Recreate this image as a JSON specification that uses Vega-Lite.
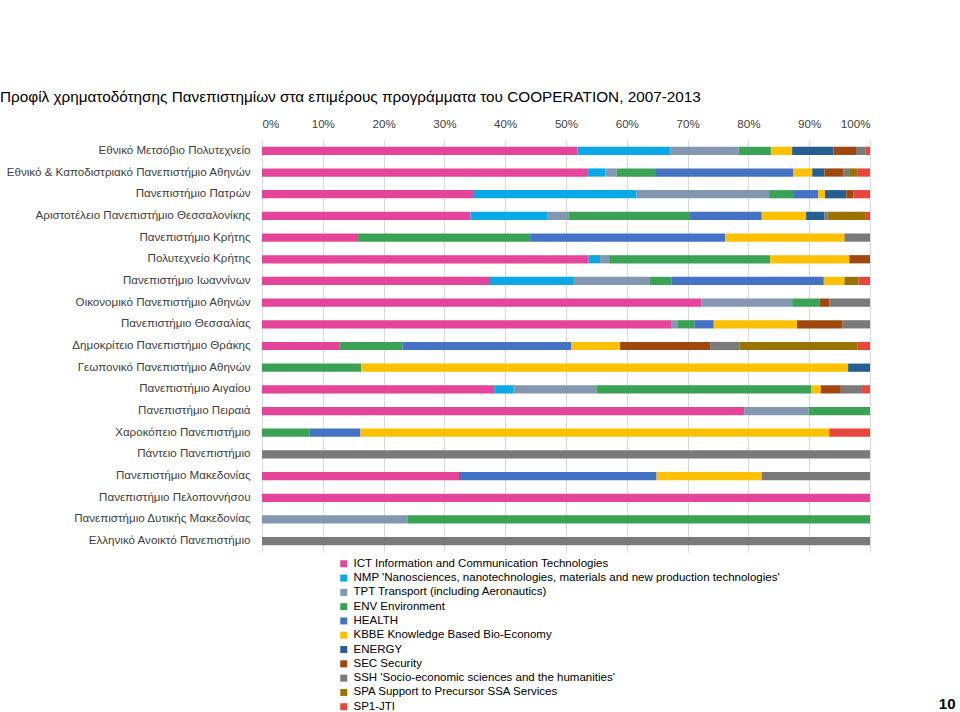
{
  "$schema": "https://vega.github.io/schema/vega-lite/v6.json",
  "width": 608,
  "height": 412,
  "autosize": {"type": "none"},
  "padding": {"left": 262, "top": 140, "right": 90, "bottom": 160},
  "background": "white",
  "config": {"view": {"stroke": null}, "font": "Liberation Sans"},
  "title": {
    "text": "Προφίλ χρηματοδότησης Πανεπιστημίων στα επιμέρους προγράμματα του COOPERATION, 2007-2013",
    "anchor": "start",
    "frame": "group",
    "dx": -262,
    "offset": 13,
    "fontSize": 15.3,
    "fontWeight": "normal",
    "font": "Liberation Sans",
    "color": "#000000"
  },
  "datasets": {
    "programmes": [
      {"p": "ICT", "k": 1, "name": "ICT Information and Communication Technologies"},
      {"p": "NMP", "k": 2, "name": "NMP  'Nanosciences, nanotechnologies, materials and new production technologies'"},
      {"p": "TPT", "k": 3, "name": "TPT Transport (including Aeronautics)"},
      {"p": "ENV", "k": 4, "name": "ENV Environment"},
      {"p": "HEALTH", "k": 5, "name": "HEALTH"},
      {"p": "KBBE", "k": 6, "name": "KBBE  Knowledge Based Bio-Economy"},
      {"p": "ENERGY", "k": 7, "name": "ENERGY"},
      {"p": "SEC", "k": 8, "name": "SEC Security"},
      {"p": "SSH", "k": 9, "name": "SSH  'Socio-economic sciences and the humanities'"},
      {"p": "SPA", "k": 10, "name": "SPA Support to Precursor SSA Services"},
      {"p": "SP1", "k": 11, "name": "SP1-JTI"}
    ],
    "funding": [
      {"u": "Εθνικό Μετσόβιο Πολυτεχνείο", "p": "ICT", "v": 51.9},
      {"u": "Εθνικό Μετσόβιο Πολυτεχνείο", "p": "NMP", "v": 15.3},
      {"u": "Εθνικό Μετσόβιο Πολυτεχνείο", "p": "TPT", "v": 11.2},
      {"u": "Εθνικό Μετσόβιο Πολυτεχνείο", "p": "ENV", "v": 5.3},
      {"u": "Εθνικό Μετσόβιο Πολυτεχνείο", "p": "KBBE", "v": 3.5},
      {"u": "Εθνικό Μετσόβιο Πολυτεχνείο", "p": "ENERGY", "v": 6.8},
      {"u": "Εθνικό Μετσόβιο Πολυτεχνείο", "p": "SEC", "v": 3.7},
      {"u": "Εθνικό Μετσόβιο Πολυτεχνείο", "p": "SSH", "v": 1.6},
      {"u": "Εθνικό Μετσόβιο Πολυτεχνείο", "p": "SP1", "v": 0.7},

      {"u": "Εθνικό & Καποδιστριακό Πανεπιστήμιο Αθηνών", "p": "ICT", "v": 53.6},
      {"u": "Εθνικό & Καποδιστριακό Πανεπιστήμιο Αθηνών", "p": "NMP", "v": 2.9},
      {"u": "Εθνικό & Καποδιστριακό Πανεπιστήμιο Αθηνών", "p": "TPT", "v": 1.8},
      {"u": "Εθνικό & Καποδιστριακό Πανεπιστήμιο Αθηνών", "p": "ENV", "v": 6.5},
      {"u": "Εθνικό & Καποδιστριακό Πανεπιστήμιο Αθηνών", "p": "HEALTH", "v": 22.6},
      {"u": "Εθνικό & Καποδιστριακό Πανεπιστήμιο Αθηνών", "p": "KBBE", "v": 3.1},
      {"u": "Εθνικό & Καποδιστριακό Πανεπιστήμιο Αθηνών", "p": "ENERGY", "v": 2.0},
      {"u": "Εθνικό & Καποδιστριακό Πανεπιστήμιο Αθηνών", "p": "SEC", "v": 3.1},
      {"u": "Εθνικό & Καποδιστριακό Πανεπιστήμιο Αθηνών", "p": "SSH", "v": 1.1},
      {"u": "Εθνικό & Καποδιστριακό Πανεπιστήμιο Αθηνών", "p": "SPA", "v": 1.2},
      {"u": "Εθνικό & Καποδιστριακό Πανεπιστήμιο Αθηνών", "p": "SP1", "v": 2.1},

      {"u": "Πανεπιστήμιο Πατρών", "p": "ICT", "v": 34.7},
      {"u": "Πανεπιστήμιο Πατρών", "p": "NMP", "v": 26.9},
      {"u": "Πανεπιστήμιο Πατρών", "p": "TPT", "v": 21.8},
      {"u": "Πανεπιστήμιο Πατρών", "p": "ENV", "v": 4.1},
      {"u": "Πανεπιστήμιο Πατρών", "p": "HEALTH", "v": 4.0},
      {"u": "Πανεπιστήμιο Πατρών", "p": "KBBE", "v": 1.1},
      {"u": "Πανεπιστήμιο Πατρών", "p": "ENERGY", "v": 3.5},
      {"u": "Πανεπιστήμιο Πατρών", "p": "SEC", "v": 1.2},
      {"u": "Πανεπιστήμιο Πατρών", "p": "SP1", "v": 2.7},

      {"u": "Αριστοτέλειο Πανεπιστήμιο Θεσσαλονίκης", "p": "ICT", "v": 34.3},
      {"u": "Αριστοτέλειο Πανεπιστήμιο Θεσσαλονίκης", "p": "NMP", "v": 12.7},
      {"u": "Αριστοτέλειο Πανεπιστήμιο Θεσσαλονίκης", "p": "TPT", "v": 3.4},
      {"u": "Αριστοτέλειο Πανεπιστήμιο Θεσσαλονίκης", "p": "ENV", "v": 20.0},
      {"u": "Αριστοτέλειο Πανεπιστήμιο Θεσσαλονίκης", "p": "HEALTH", "v": 11.8},
      {"u": "Αριστοτέλειο Πανεπιστήμιο Θεσσαλονίκης", "p": "KBBE", "v": 7.3},
      {"u": "Αριστοτέλειο Πανεπιστήμιο Θεσσαλονίκης", "p": "ENERGY", "v": 3.0},
      {"u": "Αριστοτέλειο Πανεπιστήμιο Θεσσαλονίκης", "p": "SSH", "v": 0.5},
      {"u": "Αριστοτέλειο Πανεπιστήμιο Θεσσαλονίκης", "p": "SPA", "v": 6.2},
      {"u": "Αριστοτέλειο Πανεπιστήμιο Θεσσαλονίκης", "p": "SP1", "v": 0.8},

      {"u": "Πανεπιστήμιο Κρήτης", "p": "ICT", "v": 15.8},
      {"u": "Πανεπιστήμιο Κρήτης", "p": "ENV", "v": 28.3},
      {"u": "Πανεπιστήμιο Κρήτης", "p": "HEALTH", "v": 32.1},
      {"u": "Πανεπιστήμιο Κρήτης", "p": "KBBE", "v": 19.6},
      {"u": "Πανεπιστήμιο Κρήτης", "p": "SSH", "v": 4.2},

      {"u": "Πολυτεχνείο Κρήτης", "p": "ICT", "v": 53.7},
      {"u": "Πολυτεχνείο Κρήτης", "p": "NMP", "v": 1.9},
      {"u": "Πολυτεχνείο Κρήτης", "p": "TPT", "v": 1.5},
      {"u": "Πολυτεχνείο Κρήτης", "p": "ENV", "v": 26.5},
      {"u": "Πολυτεχνείο Κρήτης", "p": "KBBE", "v": 13.0},
      {"u": "Πολυτεχνείο Κρήτης", "p": "SEC", "v": 3.4},

      {"u": "Πανεπιστήμιο Ιωαννίνων", "p": "ICT", "v": 37.5},
      {"u": "Πανεπιστήμιο Ιωαννίνων", "p": "NMP", "v": 13.8},
      {"u": "Πανεπιστήμιο Ιωαννίνων", "p": "TPT", "v": 12.4},
      {"u": "Πανεπιστήμιο Ιωαννίνων", "p": "ENV", "v": 3.7},
      {"u": "Πανεπιστήμιο Ιωαννίνων", "p": "HEALTH", "v": 25.0},
      {"u": "Πανεπιστήμιο Ιωαννίνων", "p": "KBBE", "v": 3.4},
      {"u": "Πανεπιστήμιο Ιωαννίνων", "p": "SPA", "v": 2.3},
      {"u": "Πανεπιστήμιο Ιωαννίνων", "p": "SP1", "v": 1.9},

      {"u": "Οικονομικό Πανεπιστήμιο Αθηνών", "p": "ICT", "v": 72.3},
      {"u": "Οικονομικό Πανεπιστήμιο Αθηνών", "p": "TPT", "v": 14.9},
      {"u": "Οικονομικό Πανεπιστήμιο Αθηνών", "p": "ENV", "v": 4.5},
      {"u": "Οικονομικό Πανεπιστήμιο Αθηνών", "p": "SEC", "v": 1.6},
      {"u": "Οικονομικό Πανεπιστήμιο Αθηνών", "p": "SSH", "v": 6.7},

      {"u": "Πανεπιστήμιο Θεσσαλίας", "p": "ICT", "v": 67.4},
      {"u": "Πανεπιστήμιο Θεσσαλίας", "p": "TPT", "v": 0.9},
      {"u": "Πανεπιστήμιο Θεσσαλίας", "p": "ENV", "v": 2.8},
      {"u": "Πανεπιστήμιο Θεσσαλίας", "p": "HEALTH", "v": 3.2},
      {"u": "Πανεπιστήμιο Θεσσαλίας", "p": "KBBE", "v": 13.7},
      {"u": "Πανεπιστήμιο Θεσσαλίας", "p": "SEC", "v": 7.5},
      {"u": "Πανεπιστήμιο Θεσσαλίας", "p": "SSH", "v": 4.5},

      {"u": "Δημοκρίτειο Πανεπιστήμιο Θράκης", "p": "ICT", "v": 12.7},
      {"u": "Δημοκρίτειο Πανεπιστήμιο Θράκης", "p": "ENV", "v": 10.4},
      {"u": "Δημοκρίτειο Πανεπιστήμιο Θράκης", "p": "HEALTH", "v": 27.8},
      {"u": "Δημοκρίτειο Πανεπιστήμιο Θράκης", "p": "KBBE", "v": 8.0},
      {"u": "Δημοκρίτειο Πανεπιστήμιο Θράκης", "p": "SEC", "v": 14.8},
      {"u": "Δημοκρίτειο Πανεπιστήμιο Θράκης", "p": "SSH", "v": 4.8},
      {"u": "Δημοκρίτειο Πανεπιστήμιο Θράκης", "p": "SPA", "v": 19.4},
      {"u": "Δημοκρίτειο Πανεπιστήμιο Θράκης", "p": "SP1", "v": 2.1},

      {"u": "Γεωπονικό Πανεπιστήμιο Αθηνών", "p": "ENV", "v": 16.3},
      {"u": "Γεωπονικό Πανεπιστήμιο Αθηνών", "p": "KBBE", "v": 80.1},
      {"u": "Γεωπονικό Πανεπιστήμιο Αθηνών", "p": "ENERGY", "v": 3.6},

      {"u": "Πανεπιστήμιο Αιγαίου", "p": "ICT", "v": 38.2},
      {"u": "Πανεπιστήμιο Αιγαίου", "p": "NMP", "v": 3.2},
      {"u": "Πανεπιστήμιο Αιγαίου", "p": "TPT", "v": 13.6},
      {"u": "Πανεπιστήμιο Αιγαίου", "p": "ENV", "v": 35.3},
      {"u": "Πανεπιστήμιο Αιγαίου", "p": "KBBE", "v": 1.6},
      {"u": "Πανεπιστήμιο Αιγαίου", "p": "SEC", "v": 3.3},
      {"u": "Πανεπιστήμιο Αιγαίου", "p": "SSH", "v": 3.5},
      {"u": "Πανεπιστήμιο Αιγαίου", "p": "SP1", "v": 1.3},

      {"u": "Πανεπιστήμιο Πειραιά", "p": "ICT", "v": 79.3},
      {"u": "Πανεπιστήμιο Πειραιά", "p": "TPT", "v": 10.6},
      {"u": "Πανεπιστήμιο Πειραιά", "p": "ENV", "v": 10.1},

      {"u": "Χαροκόπειο Πανεπιστήμιο", "p": "ENV", "v": 7.8},
      {"u": "Χαροκόπειο Πανεπιστήμιο", "p": "HEALTH", "v": 8.4},
      {"u": "Χαροκόπειο Πανεπιστήμιο", "p": "KBBE", "v": 77.1},
      {"u": "Χαροκόπειο Πανεπιστήμιο", "p": "SP1", "v": 6.7},

      {"u": "Πάντειο Πανεπιστήμιο", "p": "SSH", "v": 100},

      {"u": "Πανεπιστήμιο Μακεδονίας", "p": "ICT", "v": 32.4},
      {"u": "Πανεπιστήμιο Μακεδονίας", "p": "HEALTH", "v": 32.5},
      {"u": "Πανεπιστήμιο Μακεδονίας", "p": "KBBE", "v": 17.3},
      {"u": "Πανεπιστήμιο Μακεδονίας", "p": "SSH", "v": 17.8},

      {"u": "Πανεπιστήμιο Πελοποννήσου", "p": "ICT", "v": 100},

      {"u": "Πανεπιστήμιο Δυτικής Μακεδονίας", "p": "TPT", "v": 24.0},
      {"u": "Πανεπιστήμιο Δυτικής Μακεδονίας", "p": "ENV", "v": 76.0},

      {"u": "Ελληνικό Ανοικτό Πανεπιστήμιο", "p": "SSH", "v": 100}
    ]
  },
  "layer": [
    {
      "data": {"name": "funding"},
      "transform": [
        {"lookup": "p", "from": {"data": {"name": "programmes"}, "key": "p", "fields": ["name", "k"]}}
      ],
      "mark": {"type": "bar"},
      "encoding": {
        "y": {
          "field": "u",
          "type": "nominal",
          "sort": [
            "Εθνικό Μετσόβιο Πολυτεχνείο",
            "Εθνικό & Καποδιστριακό Πανεπιστήμιο Αθηνών",
            "Πανεπιστήμιο Πατρών",
            "Αριστοτέλειο Πανεπιστήμιο Θεσσαλονίκης",
            "Πανεπιστήμιο Κρήτης",
            "Πολυτεχνείο Κρήτης",
            "Πανεπιστήμιο Ιωαννίνων",
            "Οικονομικό Πανεπιστήμιο Αθηνών",
            "Πανεπιστήμιο Θεσσαλίας",
            "Δημοκρίτειο Πανεπιστήμιο Θράκης",
            "Γεωπονικό Πανεπιστήμιο Αθηνών",
            "Πανεπιστήμιο Αιγαίου",
            "Πανεπιστήμιο Πειραιά",
            "Χαροκόπειο Πανεπιστήμιο",
            "Πάντειο Πανεπιστήμιο",
            "Πανεπιστήμιο Μακεδονίας",
            "Πανεπιστήμιο Πελοποννήσου",
            "Πανεπιστήμιο Δυτικής Μακεδονίας",
            "Ελληνικό Ανοικτό Πανεπιστήμιο"
          ],
          "scale": {"paddingInner": 0.62, "paddingOuter": 0.31},
          "axis": {
            "title": null,
            "labelFontSize": 11.6,
            "labelColor": "#404040",
            "labelPadding": 12,
            "labelLimit": 400,
            "ticks": false,
            "domain": false,
            "labelFont": "Liberation Sans"
          }
        },
        "x": {
          "field": "v",
          "type": "quantitative",
          "stack": "normalize",
          "scale": {"domain": [0, 1], "nice": false},
          "axis": {
            "orient": "top",
            "format": "%",
            "values": [0, 0.1, 0.2, 0.3, 0.4, 0.5, 0.6, 0.7, 0.8, 0.9, 1],
            "title": null,
            "labelFontSize": 11.6,
            "labelColor": "#404040",
            "labelPadding": 11,
            "labelFont": "Liberation Sans",
            "ticks": false,
            "domain": false,
            "grid": true,
            "gridColor": "#D9D9D9",
            "gridWidth": 1
          }
        },
        "color": {
          "field": "name",
          "type": "nominal",
          "scale": {
            "domain": [
              "ICT Information and Communication Technologies",
              "NMP  'Nanosciences, nanotechnologies, materials and new production technologies'",
              "TPT Transport (including Aeronautics)",
              "ENV Environment",
              "HEALTH",
              "KBBE  Knowledge Based Bio-Economy",
              "ENERGY",
              "SEC Security",
              "SSH  'Socio-economic sciences and the humanities'",
              "SPA Support to Precursor SSA Services",
              "SP1-JTI"
            ],
            "range": ["#E4449A", "#0BA8E6", "#8497B0", "#3BA155", "#4472C4", "#FFC000", "#255E91", "#9E480E", "#7A7A7A", "#997300", "#E8453C"]
          },
          "legend": {
            "orient": "none",
            "legendX": 76,
            "legendY": 418,
            "title": null,
            "symbolType": "square",
            "symbolSize": 49,
            "symbolStrokeWidth": 0,
            "labelFontSize": 11.5,
            "labelColor": "#000000",
            "labelFont": "Liberation Sans",
            "labelLimit": 700,
            "rowPadding": 1.3,
            "labelOffset": 4
          }
        },
        "order": {"field": "k", "type": "quantitative"}
      }
    },
    {
      "data": {"values": [{"v": 0}]},
      "mark": {"type": "rule", "opacity": 0},
      "encoding": {
        "x": {
          "field": "v",
          "type": "quantitative",
          "axis": {
            "orient": "bottom",
            "labels": false,
            "ticks": false,
            "domain": false,
            "grid": false,
            "title": "10",
            "titleAnchor": "end",
            "titleAlign": "right",
            "titleBaseline": "alphabetic",
            "titleX": 693,
            "titleY": 156,
            "titleFontSize": 15,
            "titleFontWeight": "bold",
            "titleColor": "#000000",
            "titleFont": "Liberation Sans"
          }
        }
      }
    }
  ],
  "resolve": {"axis": {"x": "independent"}}
}
